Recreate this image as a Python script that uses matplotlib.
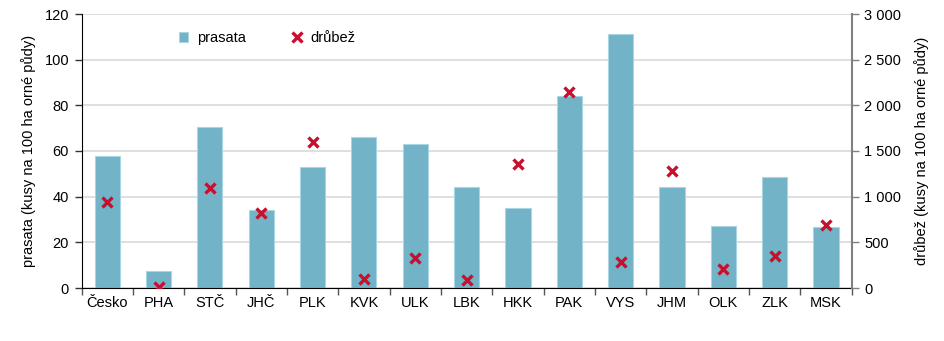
import matplotlib
matplotlib.use("Agg")
import matplotlib.pyplot as plt
from matplotlib.ticker import FuncFormatter, FixedLocator
import numpy as np

plt.rcParams['font.family'] = ['Liberation Sans', 'DejaVu Sans']

categories = ["Česko", "PHA", "STČ", "JHČ", "PLK", "KVK", "ULK", "LBK", "HKK",
              "PAK", "VYS", "JHM", "OLK", "ZLK", "MSK"]
prasata = [58, 7.6, 70.4, 34.3, 53, 66.1, 63.2, 44.1, 35.2, 84, 111.1, 44.1, 27.3, 48.5, 26.9]
drubez = [942, 8, 1091, 817, 1602, 99, 325, 88, 1354, 2142, 281, 1281, 204, 350, 686]

fig = plt.figure(figsize=(9.45, 3.41), dpi=100)
ax = fig.add_axes([81.5/945, 1-288/341, (851.7-81.5)/945, (288-14)/341])
ax2 = ax.twinx()

x = np.arange(len(categories))
bars = ax.bar(x, prasata, width=0.49, color='#72b3c7', edgecolor='#a9d6e3', linewidth=0.8,
              label='prasata', zorder=2)
ax.set_xlim(-0.5, len(categories) - 0.5)
ax.set_ylim(0, 120)
ax.set_yticks(np.arange(0, 121, 20))
ax.yaxis.grid(True, color='#d9d9d9', linewidth=1.2, zorder=0)
ax.set_axisbelow(True)

sc = ax2.plot(x, drubez, linestyle='none', marker='x', markersize=7.5, markeredgewidth=2.4,
              color='#c8102e', label='drůbež', zorder=3)
ax2.set_ylim(0, 3000)
ax2.set_yticks(np.arange(0, 3001, 500))
ax2.yaxis.set_major_formatter(FuncFormatter(lambda v, p: f"{int(v):,}".replace(",", " ")))

ax.set_xticks(x)
ax.set_xticklabels(categories, fontsize=10.5)
ax.tick_params(axis='x', length=0, pad=6)
ax.xaxis.set_minor_locator(FixedLocator(np.arange(-0.5, len(categories), 1)))
ax.tick_params(axis='x', which='minor', length=5, width=1, color='#555555', direction='out')

ax.tick_params(axis='y', labelsize=10.5, length=5, width=1, color='#333333', pad=4)
ax2.tick_params(axis='y', labelsize=10.5, length=5, width=1, color='#808080', pad=4)

for a in (ax, ax2):
    a.spines['top'].set_visible(False)
ax.spines['left'].set_color('#000000')
ax.spines['bottom'].set_color('#000000')
ax.spines['right'].set_visible(False)
ax2.spines['left'].set_visible(False)
ax2.spines['bottom'].set_visible(False)
ax2.spines['right'].set_color('#808080')
ax2.spines['right'].set_linewidth(1.5)

ax.set_ylabel("prasata (kusy na 100 ha orné půdy)", fontsize=10.5, labelpad=6)
ax2.set_ylabel("drůbež (kusy na 100 ha orné půdy)", fontsize=10.5, labelpad=9, rotation=90)

handles = [bars, sc[0]]
leg = ax.legend(handles, ['prasata', 'drůbež'], ncol=2, frameon=False, fontsize=10.5,
                loc='upper left', bbox_to_anchor=(0.11, 0.985), columnspacing=3.2,
                handlelength=0.6, handleheight=0.6, handletextpad=0.6)

fig.savefig("out.png", dpi=100)
